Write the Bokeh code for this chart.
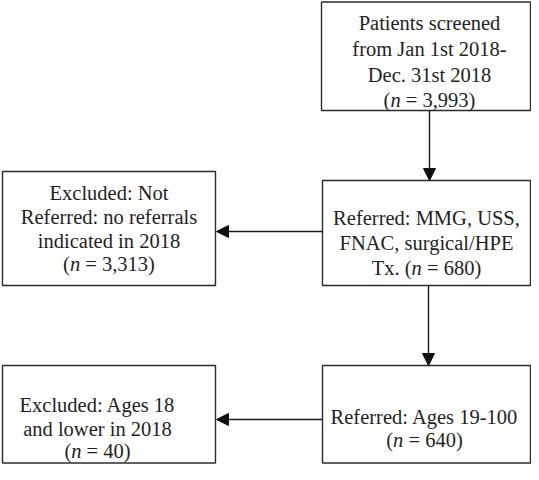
from bokeh.plotting import figure
from bokeh.models import Range1d, Arrow, NormalHead, ColumnDataSource
from bokeh.core.properties import value
from bokeh.embed import file_html
from bokeh.resources import INLINE

# ---- data (flowchart stages) ----
stage_keys = ["screened", "referred", "not_referred", "adults", "minors"]
stage_lines = [
    ["Patients screened", "from Jan 1st 2018-", "Dec. 31st 2018"],
    ["Referred: MMG, USS,", "FNAC, surgical/HPE"],
    ["Excluded: Not", "Referred: no referrals", "indicated in 2018"],
    ["Referred: Ages 19-100"],
    ["Excluded: Ages 18", "and lower in 2018"],
]
stage_n = ["3,993", "680", "3,313", "640", "40"]
stage_n_prefix = ["", "Tx.\u00a0", "", "", ""]
flows = [("screened", "referred"), ("referred", "not_referred"),
         ("referred", "adults"), ("adults", "minors")]

# ---- layout (pixels inside the figure, y downwards) ----
W, H = 531, 464
boxes = {  # left, right, top, bottom
    "screened": (321, 530, 1.5, 110),
    "referred": (322, 530, 180, 285),
    "not_referred": (2, 215, 171, 285),
    "adults": (322, 530, 365, 462.5),
    "minors": (2, 215, 365, 462.5),
}
text_cx = {"screened": 429, "referred": 426, "not_referred": 108.5,
           "adults": 424, "minors": 97}
baselines = {
    "screened": [22, 48, 74, 99],
    "referred": [217, 242, 267],
    "not_referred": [192, 216, 240, 263],
    "adults": [416, 439],
    "minors": [404, 428, 450],
}
arrows = {
    ("screened", "referred"): (429, 110, 429, 180),
    ("referred", "not_referred"): (322, 231, 216, 231),
    ("referred", "adults"): (428, 285, 428, 365),
    ("adults", "minors"): (322, 419, 216, 419),
}

FS = 20.5
FONT = "Liberation Serif"
TXT = "#231f20"
# Times / Liberation Serif advance widths (per 1000 em)
WID = {"(": 333, ")": 333, " ": 250, "\u00a0": 250, "=": 564, ",": 250,
       ".": 250, "T": 611, "x": 500}
for d in "0123456789":
    WID[d] = 500
N_ITAL = 500


def width(s):
    return sum(WID[c] for c in s) * FS / 1000.0


p = figure(width=W, height=H, x_range=Range1d(0, W), y_range=Range1d(H, 0),
           output_backend="svg", toolbar_location=None, min_border=0)
p.axis.visible = False
p.grid.visible = False
p.outline_line_color = None
p.background_fill_color = "white"
p.border_fill_color = "white"

# boxes
p.quad(left=[boxes[k][0] for k in stage_keys],
       right=[boxes[k][1] for k in stage_keys],
       top=[boxes[k][2] for k in stage_keys],
       bottom=[boxes[k][3] for k in stage_keys],
       fill_color=None, line_color="#2b2b2b", line_width=1.4)

# arrows
for f in flows:
    x0, y0, x1, y1 = arrows[f]
    p.add_layout(Arrow(x_start=x0, y_start=y0, x_end=x1, y_end=y1,
                       line_color="#1a1a1a", line_width=1.4,
                       end=NormalHead(size=12, fill_color="#111111",
                                      line_color="#111111", line_width=1)))

# texts
cx, cy, ct = [], [], []
lx, ly, lt = [], [], []
ix, iy, it = [], [], []
for k, lines, nval, pre in zip(stage_keys, stage_lines, stage_n, stage_n_prefix):
    bl = baselines[k]
    for i, ln in enumerate(lines):
        cx.append(text_cx[k]); cy.append(bl[i]); ct.append(ln)
    left = pre + "("
    right = "= " + nval + ")"
    total = width(left) + N_ITAL * FS / 1000.0 + width(" ") + width(right)
    x0 = text_cx[k] - total / 2.0
    yb = bl[len(lines)]
    lx += [x0, x0 + width(left) + N_ITAL * FS / 1000.0 + width(" ")]
    ly += [yb, yb]
    lt += [left, right]
    ix.append(x0 + width(left)); iy.append(yb); it.append("n")

common = dict(text_font=value(FONT), text_font_size=f"{FS}px",
              text_color=TXT, text_baseline="alphabetic")
p.text(x="x", y="y", text="t", source=ColumnDataSource(dict(x=cx, y=cy, t=ct)),
       text_align="center", **common)
p.text(x="x", y="y", text="t", source=ColumnDataSource(dict(x=lx, y=ly, t=lt)),
       text_align="left", **common)
p.text(x="x", y="y", text="t", source=ColumnDataSource(dict(x=ix, y=iy, t=it)),
       text_align="left", text_font_style="italic", **common)

open("out.html", "w").write(file_html(p, INLINE))
